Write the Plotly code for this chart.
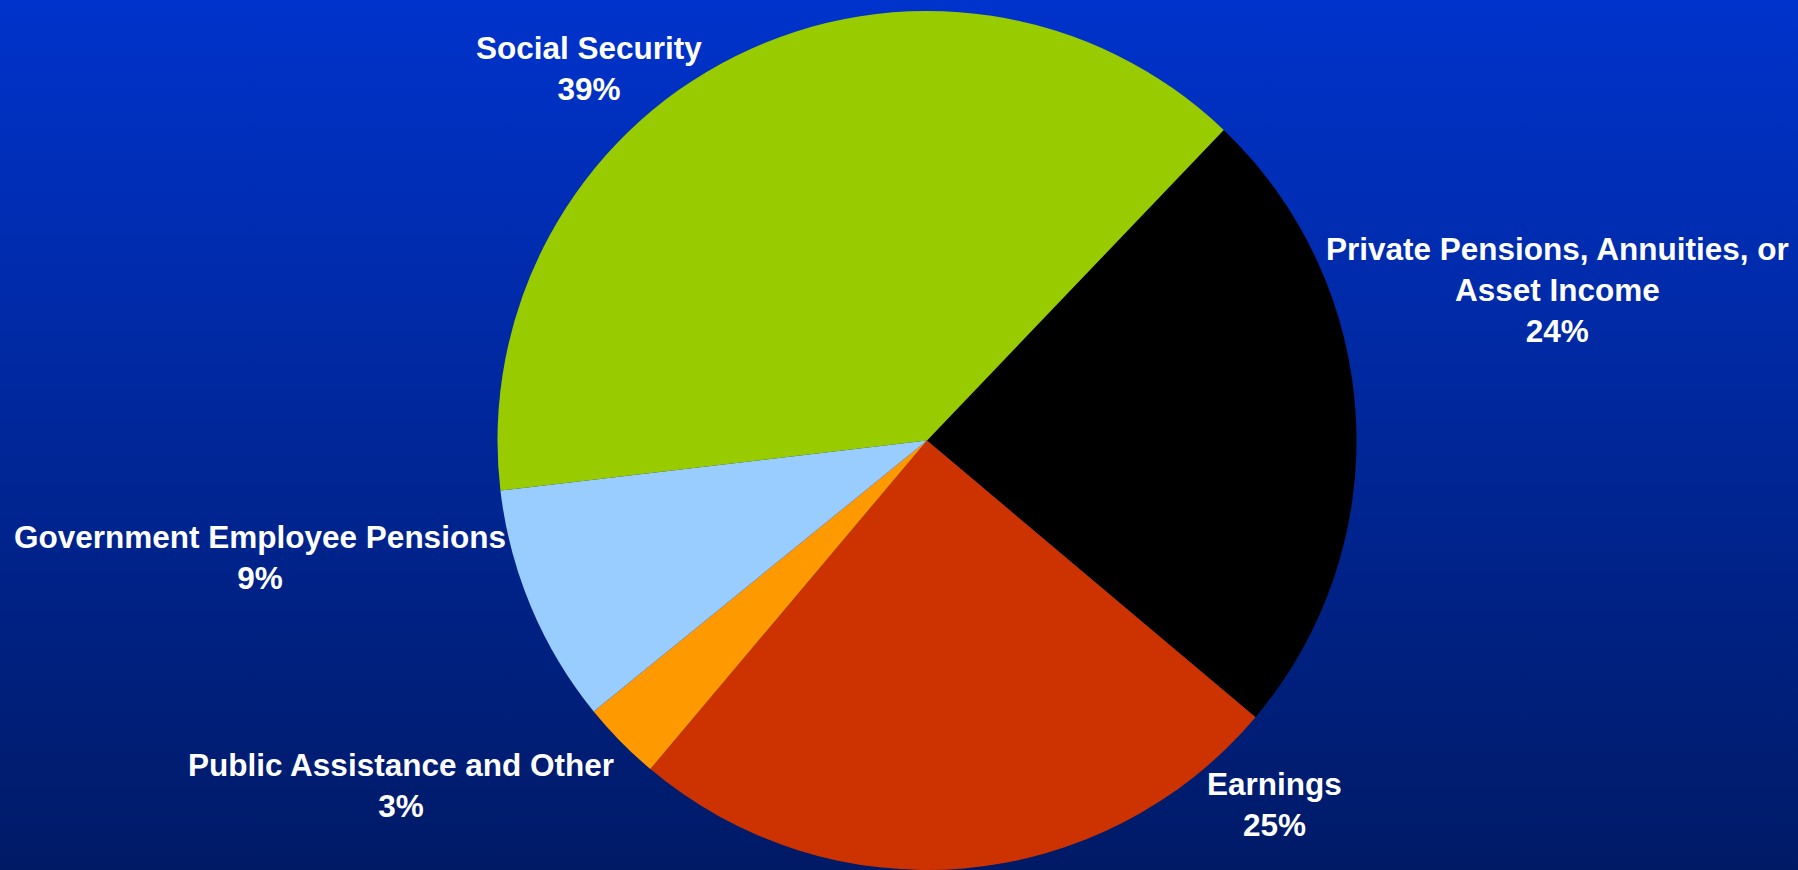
import base64
import plotly.graph_objects as go

# Sources of income, share of total (percent)
categories = [
    "Private Pensions, Annuities, or<br>Asset Income",
    "Earnings",
    "Public Assistance and Other",
    "Government Employee Pensions",
    "Social Security",
]
shares = [24, 25, 3, 9, 39]
slice_colors = ["#000000", "#cc3300", "#ff9900", "#99ccff", "#99cc00"]

# Label anchor positions (paper coordinates) for each category
label_x = [0.866, 0.709, 0.223, 0.1445, 0.3275]
label_y = [0.667, 0.075, 0.097, 0.359, 0.921]

W, H = 1798, 870

# Vertical blue gradient used as the page background
svg = (
    '<svg xmlns="http://www.w3.org/2000/svg" width="100" height="100" preserveAspectRatio="none">'
    '<defs><linearGradient id="g" x1="0" y1="0" x2="0" y2="1">'
    '<stop offset="0" stop-color="#0033cc"/>'
    '<stop offset="1" stop-color="#001a66"/>'
    '</linearGradient></defs>'
    '<rect width="100" height="100" fill="url(#g)"/></svg>'
)
bg_uri = "data:image/svg+xml;base64," + base64.b64encode(svg.encode()).decode()

cx, cy, r = 927, 441, 430
fig = go.Figure(
    go.Pie(
        labels=categories,
        values=shares,
        sort=False,
        direction="clockwise",
        rotation=43.7,
        marker=dict(colors=slice_colors, line=dict(width=0)),
        textinfo="none",
        hoverinfo="label+percent",
        showlegend=False,
        domain=dict(
            x=[(cx - r) / W, (cx + r) / W],
            y=[max(0, 1 - (cy + r) / H), 1 - (cy - r) / H],
        ),
    )
)

annotations = []
for name, val, x, y in zip(categories, shares, label_x, label_y):
    annotations.append(
        dict(
            text=f"<b>{name}<br>{val}%</b>",
            x=x, y=y, xref="paper", yref="paper",
            xanchor="center", yanchor="middle",
            showarrow=False, align="center",
            font=dict(family="Liberation Sans, Arial, sans-serif", size=31.5, color="white"),
        )
    )

fig.update_layout(
    width=W, height=H,
    margin=dict(l=0, r=0, t=0, b=0),
    paper_bgcolor="#00237f",
    plot_bgcolor="rgba(0,0,0,0)",
    annotations=annotations,
    images=[dict(
        source=bg_uri, xref="paper", yref="paper",
        x=0, y=1, sizex=1, sizey=1,
        xanchor="left", yanchor="top",
        sizing="stretch", layer="below",
    )],
)

fig.write_html("out.html")
